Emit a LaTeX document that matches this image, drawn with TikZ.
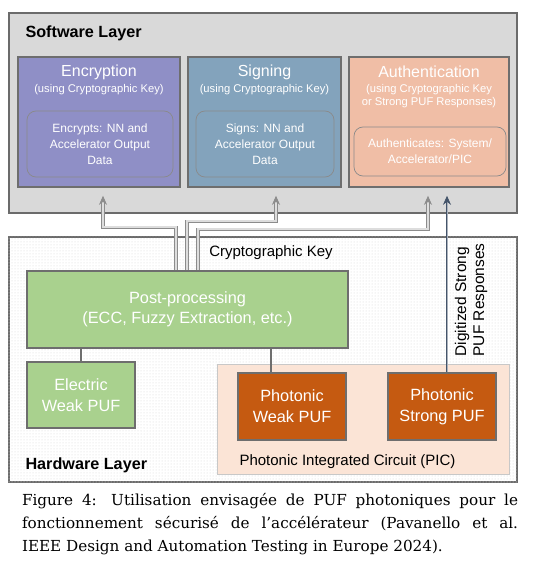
\documentclass[tikz,border=0pt]{standalone}
\usepackage{fontspec}
\setmainfont{Liberation Sans}
\newfontfamily\capfont{DejaVu Serif}
\usetikzlibrary{arrows.meta,patterns}
\definecolor{layergray}{HTML}{D9D9D9}
\definecolor{layerline}{HTML}{6B6B6B}
\definecolor{boxline}{HTML}{6E6E6E}
\definecolor{innerline}{HTML}{8A8A8A}
\definecolor{encfill}{HTML}{8F8FC6}
\definecolor{sigfill}{HTML}{83A3BC}
\definecolor{authfill}{HTML}{F0BEA6}
\definecolor{postgreen}{HTML}{A9D18E}
\definecolor{pufor}{HTML}{C55A11}
\definecolor{picfill}{HTML}{FBE4D6}
\definecolor{picline}{HTML}{C8C8C8}
\definecolor{keygray}{HTML}{8C8C8C}
\colorlet{keyinner}{keygray!30!white}
\definecolor{respblue}{HTML}{44546A}
\colorlet{respinner}{respblue!45!white}
\tikzstyle{layer} =[
    draw=layerline,
    line width=1.3pt,
    rectangle,
    inner sep=0pt
    ]
\tikzstyle{outerbox} =[
    draw=boxline,
    line width=1.6pt,
    rectangle,
    inner sep=0pt
    ]
\tikzstyle{innerbox} =[
    draw=innerline,
    line width=0.7pt,
    rounded corners=9pt,
    text=white,
    align=center,
    font=\fontsize{12}{16}\selectfont
    ]
\tikzstyle{boxtitle} =[
    text=white,
    font=\fontsize{16}{19}\selectfont
    ]
\tikzstyle{subtitle} =[
    text=white,
    align=center,
    font=\fontsize{11.2}{13}\selectfont
    ]
\tikzstyle{greenbox} =[
    outerbox,
    fill=postgreen,
    text=white,
    align=center,
    font=\fontsize{16.3}{20.5}\selectfont
    ]
\tikzstyle{pufbox} =[
    outerbox,
    fill=pufor,
    text=white,
    align=center,
    font=\fontsize{16.3}{21}\selectfont,
    minimum width=108pt,
    minimum height=67pt
    ]
\tikzstyle{layername} =[
    anchor=west,
    font=\fontsize{16.2}{19}\selectfont\bfseries
    ]
\tikzstyle{plain} =[
    font=\fontsize{15}{18}\selectfont
    ]
\tikzstyle{keyarrow} =[
    draw=keygray,
    double=keyinner,
    double distance=1.6pt,
    line width=0.9pt,
    -{Stealth[length=9pt,width=8pt]}
    ]
\tikzstyle{resparrow} =[
    draw=respblue,
    double=respinner,
    double distance=1pt,
    line width=0.8pt,
    -{Stealth[length=9pt,width=8pt]}
    ]
\tikzstyle{link} =[
    draw=boxline,
    line width=1.2pt
    ]

\begin{document}
\begin{tikzpicture}[x=1pt,y=-1pt]
\useasboundingbox (0,0) rectangle (539,572);
\fill[white] (0,0) rectangle (539,572);

% software layer
\node[layer, fill=layergray, minimum width=508pt, minimum height=200pt] (sw) at (263,113) {};
\node[layername] (swname) at (22,33) {Software Layer};

\node[outerbox, fill=encfill, minimum width=162pt, minimum height=130pt] (enc) at (99,122) {};
\node[boxtitle] (enctitle) at (99,72) {Encryption};
\node[subtitle] (encsub) at (99,90) {(using Cryptographic Key)};
\node[innerbox, fill=encfill, minimum width=146pt, minimum height=66pt] (encin) at (100,144)
    {Encrypts: NN and\\Accelerator Output\\Data};

\node[outerbox, fill=sigfill, minimum width=153pt, minimum height=130pt] (sig) at (264.5,122) {};
\node[boxtitle] (sigtitle) at (264.5,72) {Signing};
\node[subtitle] (sigsub) at (264.5,90) {(using Cryptographic Key)};
\node[innerbox, fill=sigfill, minimum width=138pt, minimum height=66pt] (sigin) at (265,144)
    {Signs: NN and\\Accelerator Output\\Data};

\node[outerbox, fill=authfill, minimum width=160pt, minimum height=130pt] (auth) at (429,122) {};
\node[boxtitle] (authtitle) at (429,72) {Authentication};
\node[subtitle] (authsub) at (429,96.5) {(using Cryptographic Key\\or Strong PUF Responses)};
\node[innerbox, fill=authfill, minimum width=152pt, minimum height=49pt] (authin) at (430,151.5)
    {Authenticates: System/\\Accelerator/PIC};

% hardware layer
\node[layer, fill=white, minimum width=508pt, minimum height=245pt] (hw) at (263,359.5) {};
\fill[pattern=dots, pattern color=black!16] (hw.north west) rectangle (hw.south east);
\node[layername] (hwname) at (22,465) {Hardware Layer};

\node[greenbox, minimum width=321pt, minimum height=77pt] (post) at (187.5,309.5)
    {Post-processing\\(ECC, Fuzzy Extraction, etc.)};
\node[greenbox, minimum width=108pt, minimum height=66pt] (eweak) at (81,395)
    {Electric\\Weak PUF};

\node[draw=picline, line width=0.8pt, fill=picfill, minimum width=292pt, minimum height=110pt] (pic) at (363,419) {};
\node[plain, anchor=west] (picname) at (236,462) {Photonic Integrated Circuit (PIC)};
\node[pufbox] (pweak) at (292,406.5) {Photonic\\Weak PUF};
\node[pufbox] (spuf) at (442,406.5) {Photonic\\Strong PUF};

\node[plain] (keyname) at (271,253) {Cryptographic Key};
\node[plain, rotate=90, align=left, font=\fontsize{15.5}{18}\selectfont] (respname) at (471,300)
    {Digitized Strong\\PUF Responses};

\draw[link] (eweak.north) -- (eweak.north |- post.south);
\draw[link] ([xshift=-21pt]pweak.north) -- ([xshift=-21pt]pweak.north |- post.south);

\draw[keyarrow] ([xshift=-11.5pt]post.north) -- ++(0,-43) -| ([xshift=4pt,yshift=-8pt]enc.south);
\draw[keyarrow] ([xshift=-0.5pt]post.north) -- ++(0,-49) -| ([xshift=11.5pt,yshift=-8pt]sig.south);
\draw[keyarrow] ([xshift=10.5pt]post.north) -- ++(0,-41) -| ([xshift=-1pt,yshift=-8pt]auth.south);
\draw[resparrow] ([xshift=5pt]spuf.north) -- ([xshift=18pt,yshift=-8pt]auth.south);

\node[text width=496pt, align=justify, font=\capfont\fontsize{15.2}{23}\selectfont] (caption) at (270,524)
    {Figure 4: Utilisation envisagée de PUF photoniques pour le\linebreak
    fonctionnement sécurisé de l’accélérateur (Pavanello et al.\linebreak
    IEEE Design and Automation Testing in Europe 2024).};
\end{tikzpicture}
\end{document}
